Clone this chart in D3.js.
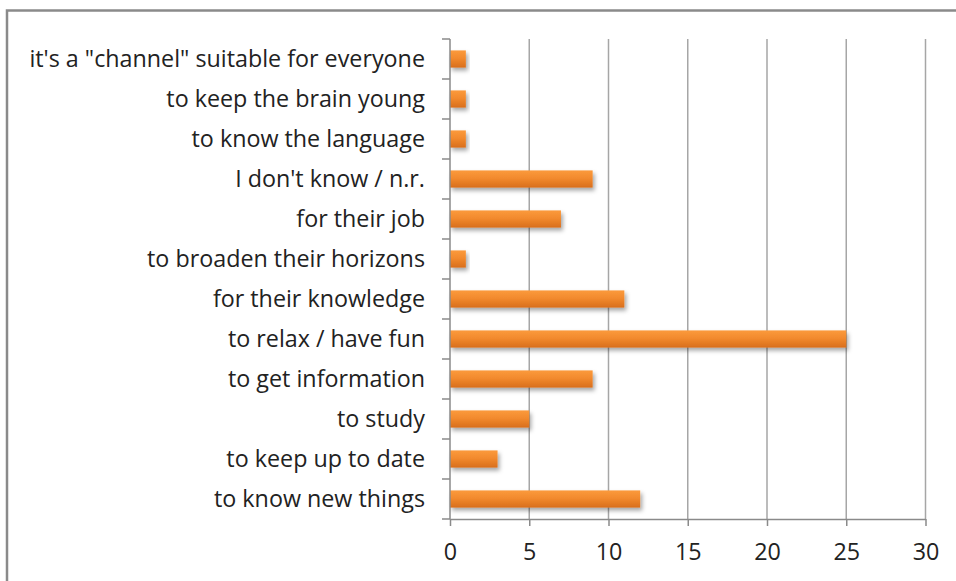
<!DOCTYPE html>
<html>
<head>
<meta charset="utf-8">
<script src="https://cdn.jsdelivr.net/npm/d3@7"></script>
<style>
  body { margin: 0; background: #fff; }
  svg { display: block; font-family: "Open Sans", Lato, sans-serif; }
</style>
</head>
<body>
<svg id="chart"></svg>
<script>
// categories top to bottom
var reasons = [
  "it's a \"channel\" suitable for everyone",
  "to keep the brain young",
  "to know the language",
  "I don't know / n.r.",
  "for their job",
  "to broaden their horizons",
  "for their knowledge",
  "to relax / have fun",
  "to get information",
  "to study",
  "to keep up to date",
  "to know new things"
];
var answers = [1, 1, 1, 9, 7, 1, 11, 25, 9, 5, 3, 12];
var xTicks = [0, 5, 10, 15, 20, 25, 30];

var svgWidth = 956, svgHeight = 581;
var plotLeft = 450, plotRight = 925.5, plotTop = 39, plotBottom = 519;
var fontSize = 23.3;

var svg = d3.select("#chart").attr("width", svgWidth).attr("height", svgHeight);

// frame of the chart area (runs off right and bottom)
svg.append("path")
  .attr("d", "M7,600 V10.5 H970")
  .attr("fill", "none").attr("stroke", "#8a8a8a").attr("stroke-width", 2.5);

var defs = svg.append("defs");
var grad = defs.append("linearGradient").attr("id", "barGrad")
  .attr("x1", 0).attr("y1", 0).attr("x2", 0).attr("y2", 1);
grad.append("stop").attr("offset", "0%").attr("stop-color", "#fb9a3c");
grad.append("stop").attr("offset", "45%").attr("stop-color", "#f28a2e");
grad.append("stop").attr("offset", "100%").attr("stop-color", "#d86e1c");

var shadow = defs.append("filter").attr("id", "shadow")
  .attr("x", "-10%").attr("y", "-50%").attr("width", "130%").attr("height", "250%");
shadow.append("feDropShadow").attr("dx", 2).attr("dy", 3).attr("stdDeviation", 2.2)
  .attr("flood-color", "#000").attr("flood-opacity", 0.35);

var x = d3.scaleLinear().domain([0, 30]).range([plotLeft, plotRight]);
var y = d3.scaleBand().domain(reasons).range([plotTop, plotBottom]).paddingInner(0.57).paddingOuter(0.285);

// vertical gridlines
svg.append("g").selectAll("line").data(xTicks.slice(1)).enter().append("line")
  .attr("x1", function(d) { return x(d); }).attr("x2", function(d) { return x(d); })
  .attr("y1", plotTop).attr("y2", plotBottom)
  .attr("stroke", "#a6a6a6").attr("stroke-width", 1.5);

// bars
svg.append("g").selectAll("rect").data(answers).enter().append("rect")
  .attr("x", x(0))
  .attr("y", function(d, i) { return y(reasons[i]); })
  .attr("width", function(d) { return x(d) - x(0); })
  .attr("height", y.bandwidth())
  .attr("fill", "url(#barGrad)")
  .attr("filter", "url(#shadow)");

// x axis
var xAxis = svg.append("g").attr("transform", "translate(0," + plotBottom + ")")
  .call(d3.axisBottom(x).tickValues(xTicks).tickSize(7).tickPadding(17).tickSizeOuter(0));
xAxis.select(".domain").attr("stroke", "#8a8a8a").attr("stroke-width", 1.5);
xAxis.selectAll(".tick line").attr("stroke", "#8a8a8a").attr("stroke-width", 1.5);
xAxis.selectAll("text").attr("font-size", fontSize).attr("fill", "#222").attr("font-family", "'Open Sans', Lato, sans-serif");

// y axis: ticks at band boundaries
var yAxis = svg.append("g").attr("transform", "translate(" + plotLeft + ",0)");
yAxis.append("line").attr("y1", plotTop).attr("y2", plotBottom).attr("stroke", "#8a8a8a").attr("stroke-width", 1.5);
var step = y.step();
yAxis.selectAll("line.tk").data(d3.range(reasons.length + 1)).enter().append("line")
  .attr("class", "tk")
  .attr("x1", -8).attr("x2", 0)
  .attr("y1", function(i) { return plotTop + i * step; })
  .attr("y2", function(i) { return plotTop + i * step; })
  .attr("stroke", "#8a8a8a").attr("stroke-width", 1.5);
yAxis.selectAll("text").data(reasons).enter().append("text")
  .attr("x", -25)
  .attr("y", function(d) { return y(d) + y.bandwidth() / 2; })
  .attr("dy", "0.36em")
  .attr("text-anchor", "end")
  .attr("font-size", fontSize)
  .attr("fill", "#222")
  .text(function(d) { return d; });
</script>
</body>
</html>
